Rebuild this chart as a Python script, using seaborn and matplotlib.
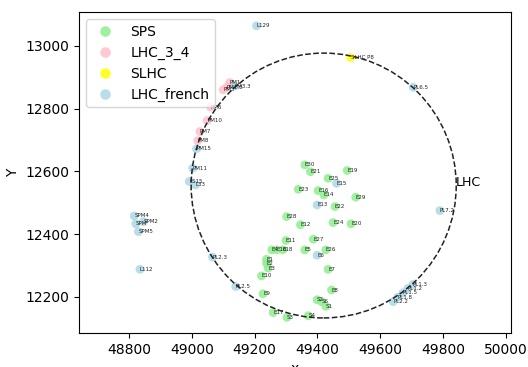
import pandas as pd
import matplotlib.pyplot as plt
import seaborn as sns
from matplotlib.patches import Circle

# SPS points (green)
sps_names = ['E28', 'E12', 'E11', 'E27', 'E5', 'E4', 'E16', 'E18', 'E1', 'E2', 'E3', 'E10',
             'E9', 'E17', 'S3', 'S4', 'E26', 'E7', 'E8', 'S2', 'S6', 'S1', 'E30', 'E21',
             'E25', 'E19', 'E23', 'E16', 'E14', 'E22', 'E29', 'E24', 'E20']
sps_x = [49302, 49346, 49300, 49387, 49360, 49255, 49271, 49290, 49238, 49238, 49243, 49222,
         49227, 49259, 49303, 49371, 49427, 49434, 49445, 49399, 49413, 49427, 49360, 49378,
         49434, 49495, 49339, 49402, 49421, 49456, 49522, 49450, 49507]
sps_y = [12456, 12430, 12380, 12384, 12350, 12350, 12350, 12350, 12320, 12307, 12292, 12267,
         12210, 12150, 12135, 12140, 12350, 12288, 12222, 12191, 12185, 12170, 12621, 12599,
         12578, 12603, 12543, 12539, 12525, 12488, 12518, 12437, 12433]

# LHC_3_4 points (pink)
lhc34_names = ['PM1', 'PM1.8', 'PM3', 'PM6', 'PM10', 'PM7', 'PM8']
lhc34_x = [49121, 49111, 49100, 49060, 49049, 49026, 49019]
lhc34_y = [12883, 12868, 12860, 12805, 12762, 12727, 12698]

# SLHC point (yellow)
slhc_names = ['SLHC P8']
slhc_x = [49506]
slhc_y = [12963]

# LHC_french points (blue)
french_names = ['PM3.3', 'PM15', 'PM11', 'LS15', 'L33', 'SPM4', 'SPM', 'SPM2', 'SPM5', 'L112',
                'PL2.3', 'PL2.5', 'L129', 'PL6.5', 'PL7.2', 'E13', 'E6', 'E15',
                'PL2.2', 'PL1.8', 'PL1.5', 'PL1.2', 'PL1.3']
french_x = [49137, 49015, 49003, 48992, 49012, 48817, 48822, 48846, 48830, 48835,
            49066, 49140, 49206, 49705, 49790, 49399, 49399, 49461,
            49641, 49656, 49672, 49688, 49704]
french_y = [12872, 12672, 12610, 12568, 12557, 12458, 12433, 12440, 12408, 12288,
            12327, 12233, 13064, 12868, 12475, 12493, 12333, 12562,
            12185, 12199, 12213, 12227, 12240]

# LHC ring
ring_center = (49420, 12555)
ring_radius = 422

rows = []
for grp, names, xs, ys in [('SPS', sps_names, sps_x, sps_y),
                           ('LHC_3_4', lhc34_names, lhc34_x, lhc34_y),
                           ('SLHC', slhc_names, slhc_x, slhc_y),
                           ('LHC_french', french_names, french_x, french_y)]:
    for n, a, b in zip(names, xs, ys):
        rows.append({'name': n, 'x': a, 'Y': b, 'site': grp})
df = pd.DataFrame(rows)

palette = {'SPS': 'lightgreen', 'LHC_3_4': 'pink', 'SLHC': 'yellow', 'LHC_french': 'lightblue'}

fig = plt.figure(figsize=(5.28, 3.67), dpi=100)
ax = fig.add_axes([0.1496, 0.0926, 0.818, 0.8747])

sns.scatterplot(data=df, x='x', y='Y', hue='site',
                hue_order=['SPS', 'LHC_3_4', 'SLHC', 'LHC_french'],
                palette=palette, s=40, alpha=0.85, edgecolor='none', ax=ax)

for _, r in df.iterrows():
    ax.text(r['x'], r['Y'], r['name'], fontsize=4, va='center', ha='left', color='#222222')

ax.add_patch(Circle(ring_center, ring_radius, fill=False, ls='--', lw=1.1, color='#222222'))
ax.text(ring_center[0] + ring_radius, ring_center[1] + 10, 'LHC', fontsize=9, va='center')

ax.set_xlim(48641, 50016)
ax.set_ylim(12085, 13108)
ax.set_xticks([48800, 49000, 49200, 49400, 49600, 49800, 50000])
ax.set_yticks([12200, 12400, 12600, 12800, 13000])
ax.tick_params(labelsize=10)
ax.set_xlabel('x', fontsize=10)
ax.set_ylabel('Y', fontsize=10)

leg = ax.legend(loc='upper left', fontsize=10, markerscale=1.2)
leg.set_title(None)

fig.savefig('out.png', dpi=100)
plt.close()
